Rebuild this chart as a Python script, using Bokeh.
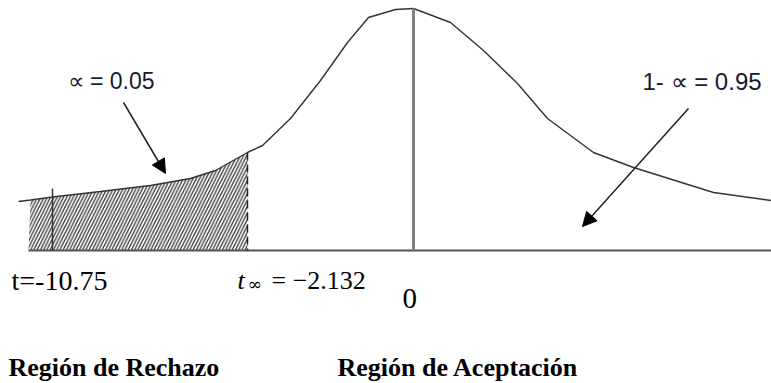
import numpy as np
from bokeh.plotting import figure
from bokeh.models import Range1d, Label, Arrow, NormalHead
from bokeh.embed import file_html
from bokeh.resources import INLINE

# curve (diagram coordinates, y grows downward)
curve_x = [18, 30, 52, 100, 150, 190, 215, 247, 262, 290, 320, 347, 368, 395, 413,
           450, 483, 517, 547, 593, 633, 713, 771]
curve_y = [201, 199.5, 196.5, 191, 185, 178, 170, 152, 145, 118, 80, 42, 17, 9, 8,
           22, 50, 83, 118, 152, 167, 192, 200]

base_y = 250
base_x = [28, 771]
shade_start = 30
shade_end = 247
t_obs_x = 52
t_obs_top = 188
mean_x = 413
mean_top = 8

# arrows: tail -> tip
arrow_tail_x = [123, 688]
arrow_tail_y = [102, 108]
arrow_tip_x = [165, 582]
arrow_tip_y = [173, 226]

alpha_text = "\u221d = 0.05"
conf_text = "1- \u221d = 0.95"
t_obs_text = "t=-10.75"
t_crit_value = "= \u22122.132"
zero_text = "0"
reject_text = "Región de Rechazo"
accept_text = "Región de Aceptación"

p = figure(width=771, height=383, output_backend="svg", toolbar_location=None,
           x_range=Range1d(0, 771), y_range=Range1d(383, 0),
           x_axis_location=None, y_axis_location=None, min_border=0)
p.grid.visible = False
p.outline_line_color = None
p.background_fill_color = "white"
p.border_fill_color = "white"

cx = np.array(curve_x, dtype=float)
cy = np.array(curve_y, dtype=float)
mask = (cx >= shade_start) & (cx <= shade_end)
px = list(cx[mask]) + [shade_end, shade_start - 2]
py = list(cy[mask]) + [base_y, base_y]
p.patch(px, py, fill_color=None, line_color=None, hatch_pattern="/",
        hatch_color="#333333", hatch_scale=6.5, hatch_weight=1.3)

p.line(curve_x, curve_y, line_color="#333333", line_width=1.4)
p.line(base_x, [base_y, base_y], line_color="#555555", line_width=2.2)
p.line([mean_x, mean_x], [mean_top, base_y], line_color="#808080", line_width=3)
p.line([t_obs_x, t_obs_x], [t_obs_top, base_y], line_color="#333333", line_width=1.5)
p.line([shade_end, shade_end], [cy[cx == shade_end][0], base_y], line_color="#222222",
       line_width=1.5, line_dash="8 4")

for tx, ty, hx, hy in zip(arrow_tail_x, arrow_tail_y, arrow_tip_x, arrow_tip_y):
    p.add_layout(Arrow(end=NormalHead(size=14, fill_color="black", line_color="black"),
                       x_start=tx, y_start=ty, x_end=hx, y_end=hy,
                       line_color="#222222", line_width=1.5))

def lab(x, y, text, font, size, style="normal", color="black"):
    p.add_layout(Label(x=x, y=y, text=text, text_font=font, text_font_size=size,
                       text_font_style=style, text_color=color,
                       text_baseline="alphabetic", text_align="left"))

lab(67, 80, alpha_text, "Liberation Sans", "23px", color="#1a1a2e")
lab(642, 81, conf_text, "Liberation Sans", "24px", color="#1a1a2e")
lab(11, 280, t_obs_text, "Liberation Serif", "28px")
lab(237, 280, "t", "Liberation Serif", "26px", "italic")
lab(247, 283, "\u221e", "DejaVu Serif", "17px")
lab(271, 280, t_crit_value, "Liberation Serif", "26px")
lab(402, 298, zero_text, "Liberation Serif", "29px")
lab(8, 367, reject_text, "Liberation Serif", "26px", "bold")
lab(337, 367, accept_text, "Liberation Serif", "26px", "bold")

open("out.html", "w").write(file_html(p, INLINE))
